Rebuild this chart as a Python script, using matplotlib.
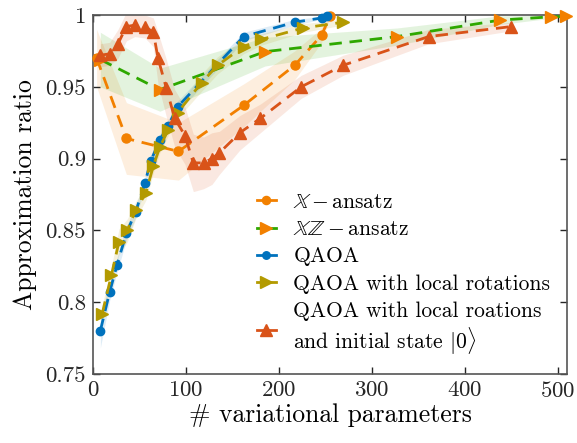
import matplotlib
matplotlib.use("Agg")
import matplotlib.pyplot as plt
from matplotlib.lines import Line2D
from matplotlib.legend_handler import HandlerLine2D
import numpy as np

plt.rcParams['font.family'] = 'serif'
plt.rcParams['font.serif'] = ['cmr10']
plt.rcParams['mathtext.fontset'] = 'cm'
plt.rcParams['axes.formatter.use_mathtext'] = True

# ---------------- data ----------------
x_ansatz_x = [4, 36, 92, 162, 217, 246, 255]
x_ansatz_y = [0.970, 0.914, 0.905, 0.937, 0.965, 0.986, 0.9995]
x_ansatz_err = [0.02, 0.025, 0.02, 0.015, 0.01, 0.005, 0.001]

xz_x = [8, 72, 185, 327, 438, 493, 509]
xz_y = [0.969, 0.948, 0.9745, 0.985, 0.9965, 0.9988, 0.9990]
xz_err = [0.019, 0.015, 0.01, 0.006, 0.003, 0.001, 0.001]

qaoa_x = [8, 18, 26, 36, 46, 56, 62, 72, 81, 91, 162, 217, 246, 252]
qaoa_y = [0.780, 0.807, 0.826, 0.848, 0.863, 0.883, 0.898, 0.913, 0.923, 0.936, 0.985, 0.995, 0.998, 0.999]
qaoa_err = [0.012, 0.006, 0.005, 0.005, 0.004, 0.004, 0.004, 0.004, 0.004, 0.004, 0.003, 0.002, 0.001, 0.001]

qlr_x = [10, 20, 28, 37, 46, 57, 65, 72, 81, 91, 117, 134, 162, 181, 226, 269]
qlr_y = [0.792, 0.819, 0.842, 0.850, 0.864, 0.876, 0.895, 0.908, 0.920, 0.932, 0.953, 0.965, 0.978, 0.983, 0.991, 0.995]
qlr_err = [0.006, 0.006, 0.009, 0.008, 0.006, 0.005, 0.005, 0.004, 0.004, 0.004, 0.006, 0.006, 0.005, 0.004, 0.003, 0.002]

q0_x = [8, 18, 27, 36, 45, 56, 65, 70, 79, 88, 99, 108, 119, 128, 136, 158, 180, 224, 269, 361, 450]
q0_y = [0.972, 0.973, 0.980, 0.992, 0.993, 0.992, 0.988, 0.970, 0.949, 0.928, 0.916, 0.897, 0.897, 0.900, 0.904,
        0.918, 0.928, 0.950, 0.965, 0.985, 0.992]
q0_err = [0.008, 0.008, 0.01, 0.01, 0.008, 0.008, 0.01, 0.018, 0.02, 0.02, 0.02, 0.02, 0.018, 0.018, 0.015,
          0.012, 0.01, 0.008, 0.007, 0.005, 0.003]

labels = [r'$\mathbb{X}-\mathrm{ansatz}$', r'$\mathbb{XZ}-\mathrm{ansatz}$', 'QAOA',
          'QAOA with local rotations', 'QAOA with local roations\nand initial state ' + r'$|\mathbf{0}\rangle$']

yticks = [0.75, 0.8, 0.85, 0.9, 0.95, 1.0]
ytick_labels = ['0.75', '0.8', '0.85', '0.9', '0.95', '1']
xticks = [0, 100, 200, 300, 400, 500]

# ---------------- style ----------------
c_orange = '#F28000'
c_green = '#2EA800'
c_blue = '#0072BD'
c_olive = '#B39A00'
c_red = '#D95319'
dash = (0, (4.5, 2.8))
lw = 2.0


class RightMarkerHandler(HandlerLine2D):
    def get_xdata(self, legend, xdescent, ydescent, width, height, fontsize):
        xdata = [-xdescent, -xdescent + 0.9 * width]
        return xdata, [-xdescent + 0.9 * width]


fig = plt.figure(figsize=(5.77, 4.43), dpi=100)
ax = fig.add_axes([0.161, 0.156, 0.822, 0.810])

series = [
    (x_ansatz_x, x_ansatz_y, x_ansatz_err, c_orange, c_orange, 'o', 6.5),
    (xz_x, xz_y, xz_err, c_green, c_orange, '>', 9),
    (qaoa_x, qaoa_y, qaoa_err, c_blue, c_blue, 'o', 6),
    (qlr_x, qlr_y, qlr_err, c_olive, c_olive, '>', 9),
    (q0_x, q0_y, q0_err, c_red, c_red, '^', 9),
]

for xs, ys, es, lc, mc, mk, ms in series:
    xs = np.array(xs); ys = np.array(ys); es = np.array(es)
    ax.fill_between(xs, ys - es, ys + es, color=lc, alpha=0.13, lw=0)

for xs, ys, es, lc, mc, mk, ms in series:
    ax.plot(xs, ys, color=lc, lw=lw, linestyle=dash, marker=mk, ms=ms,
            mfc=mc, mec=mc, clip_on=False, zorder=3)

ax.set_xlim(0, 510)
ax.set_ylim(0.75, 1.0)
ax.set_yticks(yticks)
ax.set_yticklabels(ytick_labels)
ax.set_xticks(xticks)
ax.tick_params(direction='in', top=True, right=True, length=5, width=1, labelsize=16.5,
               colors='#262626', pad=5)
for s in ax.spines.values():
    s.set_color('#555555')
    s.set_linewidth(1.2)
ax.set_xlabel('# variational parameters', fontsize=18.5, labelpad=2)
ax.set_ylabel('Approximation ratio', fontsize=18.5, labelpad=6)

handles = []
for xs, ys, es, lc, mc, mk, ms in series:
    handles.append(Line2D([], [], color=lc, lw=lw, linestyle='-', marker=mk, ms=ms * 0.9, mfc=mc, mec=mc))
leg = fig.legend(handles, labels, loc='upper left', bbox_to_anchor=(0.445, 0.566),
                 bbox_transform=fig.transFigure, frameon=False,
                 fontsize=15.5, numpoints=1, handlelength=1.0, handletextpad=0.7,
                 labelspacing=0.36, borderpad=0, borderaxespad=0,
                 handler_map={Line2D: RightMarkerHandler()})

fig.savefig('out.png', dpi=100)
